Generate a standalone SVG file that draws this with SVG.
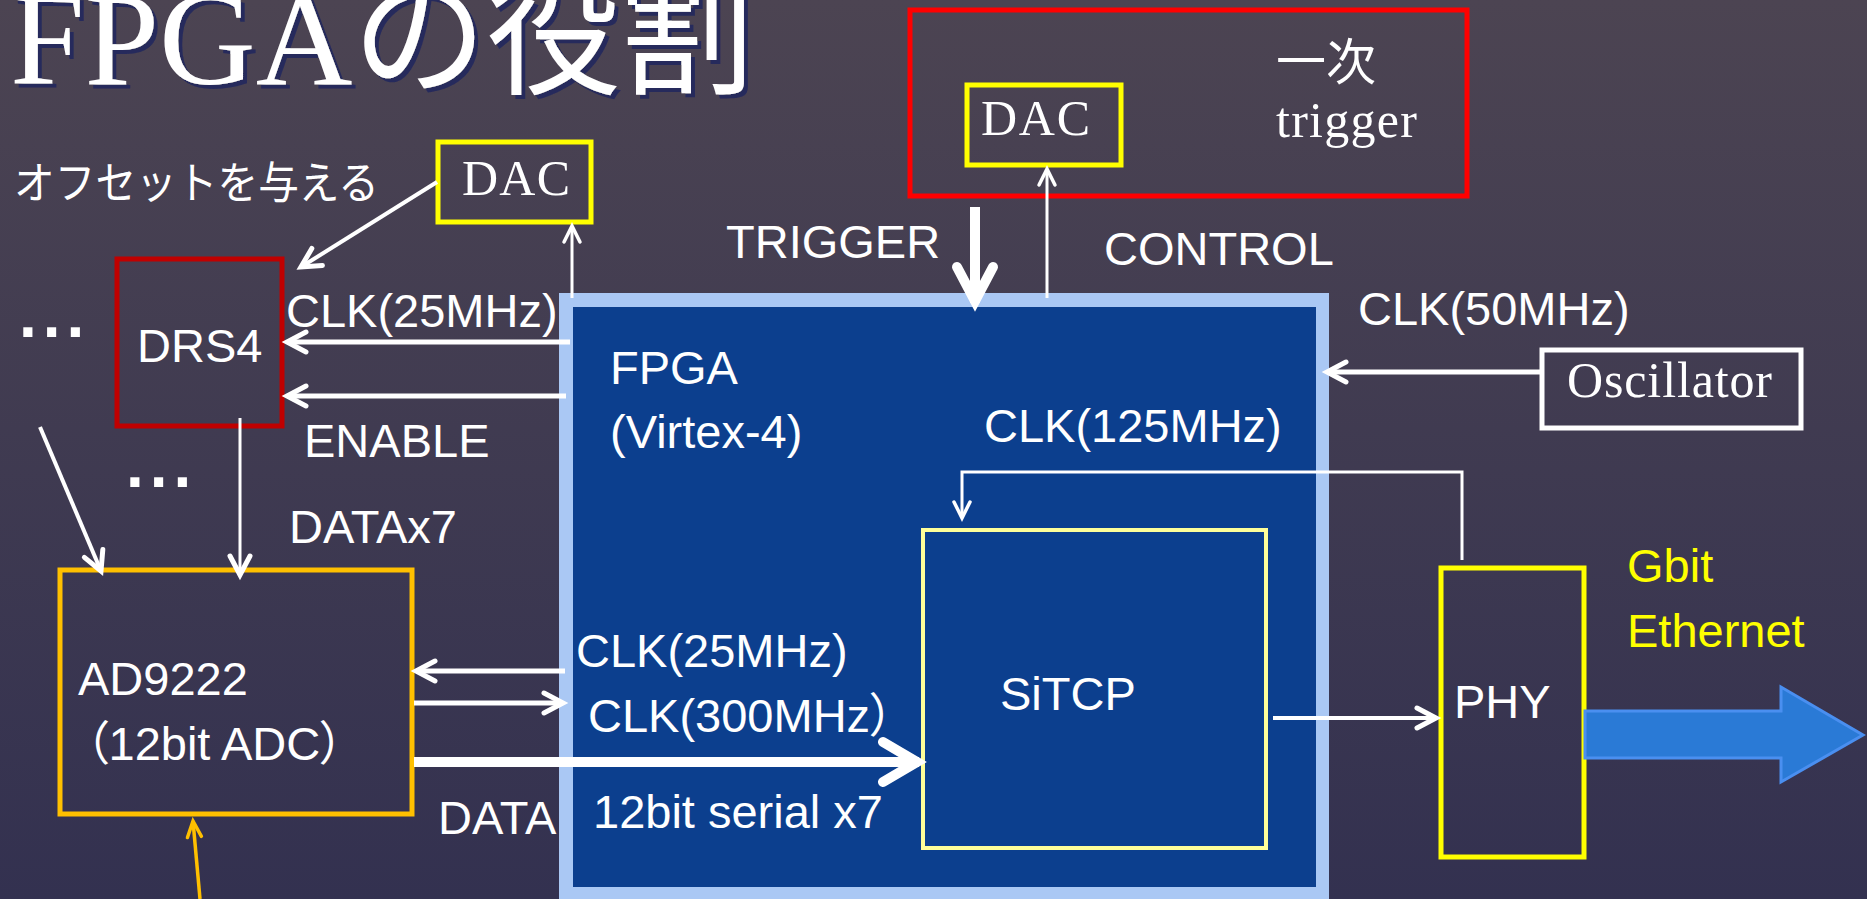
<svg xmlns="http://www.w3.org/2000/svg" width="1867" height="899" viewBox="0 0 1867 899">
<defs>
<linearGradient id="bg" x1="0" y1="0" x2="0" y2="1">
<stop offset="0" stop-color="#4c4452"/>
<stop offset="1" stop-color="#333150"/>
</linearGradient>
<filter id="shadow" x="-5%" y="-20%" width="115%" height="150%">
<feDropShadow dx="4" dy="4" stdDeviation="0" flood-color="#272a5c" flood-opacity="1"/>
</filter>
<marker id="hThin" markerUnits="userSpaceOnUse" viewBox="-20 -12 24 24" refX="0" refY="0" markerWidth="24" markerHeight="24" orient="auto" overflow="visible">
<path d="M-16,-8 L0,0 L-16,8" fill="none" stroke="#fff" stroke-width="3.5" stroke-linecap="round"/>
</marker>
<marker id="hMed" markerUnits="userSpaceOnUse" viewBox="-24 -14 28 28" refX="0" refY="0" markerWidth="28" markerHeight="28" orient="auto" overflow="visible">
<path d="M-19,-10 L0,0 L-19,10" fill="none" stroke="#fff" stroke-width="5" stroke-linecap="round"/>
</marker>
<marker id="hOrange" markerUnits="userSpaceOnUse" viewBox="-20 -12 24 24" refX="0" refY="0" markerWidth="24" markerHeight="24" orient="auto" overflow="visible">
<path d="M-16,-7 L0,0 L-16,7" fill="none" stroke="#ffc000" stroke-width="3.5" stroke-linecap="round"/>
</marker>
<marker id="hThick" markerUnits="userSpaceOnUse" viewBox="-44 -26 48 52" refX="0" refY="0" markerWidth="48" markerHeight="52" orient="auto" overflow="visible">
<path d="M-36,-20 L-2,0 L-36,20" fill="none" stroke="#fff" stroke-width="10" stroke-linecap="round" stroke-linejoin="miter"/>
</marker>
<marker id="hTrig" markerUnits="userSpaceOnUse" viewBox="-44 -26 48 52" refX="0" refY="0" markerWidth="48" markerHeight="52" orient="auto" overflow="visible">
<path d="M-36,-18 L-2,0 L-36,18" fill="none" stroke="#fff" stroke-width="10" stroke-linecap="round" stroke-linejoin="miter"/>
</marker>
</defs>
<style>
.sans{font-family:"Liberation Sans","Noto Sans CJK JP",sans-serif;fill:#fff;font-size:47px}
.serif{font-family:"Liberation Serif","Noto Sans CJK JP",serif;fill:#fff;font-size:50px}
.jp{font-family:"Noto Sans CJK JP",sans-serif;fill:#fff}
.palt{font-feature-settings:"palt"}
.box{fill:none;stroke-width:5}
.ln{fill:none;stroke:#fff}
.dots{font-family:"Liberation Sans",sans-serif;font-weight:bold;fill:#fff;font-size:64px;letter-spacing:6px}
</style>
<rect x="0" y="0" width="1867" height="899" fill="url(#bg)"/>

<g id="title">
<text x="10" y="84" font-family="'Liberation Serif','Noto Sans CJK JP',serif" font-size="134" fill="#fff" filter="url(#shadow)">FPGAの役割</text>
</g>

<g id="fpga">
<rect x="559" y="293" width="770" height="620" fill="#aac8f4"/>
<rect x="573" y="307" width="743" height="580" fill="#0c3f8e"/>
<text class="sans" x="610" y="384" font-size="51">FPGA</text>
<text class="sans" x="610" y="448" font-size="51">(Virtex-4)</text>
</g>

<g id="sitcp">
<rect x="923" y="530" width="343" height="318" fill="none" stroke="#ffff99" stroke-width="4"/>
<text class="sans" x="1000" y="710" font-size="52">SiTCP</text>
</g>

<g id="phy">
<rect class="box" x="1441" y="568" width="143" height="289" stroke="#ffff00"/>
<text class="sans" x="1454" y="718" font-size="52">PHY</text>
</g>

<g id="ad9222">
<rect class="box" x="60" y="570" width="352" height="244" stroke="#ffc000"/>
<text class="sans" x="78" y="695" font-size="51">AD9222</text>
<text class="sans palt" x="85" y="760" font-size="51">（12bit ADC）</text>
</g>

<g id="drs4">
<rect class="box" x="117" y="259" width="165" height="167" stroke="#c00000"/>
<text class="sans" x="137" y="362" font-size="45">DRS4</text>
</g>

<g id="dac-left">
<rect class="box" x="438" y="142" width="153" height="80" stroke="#ffff00"/>
<text class="serif" x="462" y="195" textLength="108">DAC</text>
</g>

<g id="trigger-board">
<rect class="box" x="910" y="10" width="557" height="186" stroke="#ff0000"/>
<text class="serif" x="1276" y="80" font-size="46">一次</text>
<text class="serif" x="1276" y="137" textLength="141">trigger</text>
</g>

<g id="dac-trigger">
<rect class="box" x="967" y="85" width="154" height="80" stroke="#ffff00"/>
<text class="serif" x="981" y="135" textLength="109">DAC</text>
</g>

<g id="oscillator">
<rect class="box" x="1542" y="350" width="259" height="78" stroke="#fff"/>
<text class="serif" x="1567" y="397" textLength="205">Oscillator</text>
</g>

<g id="ethernet">
<polygon points="1585,711 1781,711 1781,687 1863,735 1781,782 1781,758 1585,758" fill="#2a7ad6" stroke="#4a8ff0" stroke-width="3"/>
<text class="sans" x="1627" y="582" font-size="52" style="fill:#ffff00">Gbit</text>
<text class="sans" x="1627" y="647" font-size="52" style="fill:#ffff00">Ethernet</text>
</g>

<g id="misc-labels">
<text class="jp" x="14" y="199" font-size="44" textLength="365" lengthAdjust="spacingAndGlyphs">オフセットを与える</text>
<text class="dots" x="19" y="337">...</text>
<text class="dots" x="126" y="487">...</text>
</g>

<g id="connectors">
<line class="ln" x1="437" y1="182" x2="301" y2="267" stroke-width="4" marker-end="url(#hMed)"/>
<line class="ln" x1="572" y1="298" x2="572" y2="226" stroke-width="3" marker-end="url(#hThin)"/>
<line class="ln" x1="570" y1="342" x2="287" y2="342" stroke-width="5" marker-end="url(#hMed)"/>
<line class="ln" x1="566" y1="396" x2="287" y2="396" stroke-width="5" marker-end="url(#hMed)"/>
<line class="ln" x1="40" y1="427" x2="101" y2="571" stroke-width="4" marker-end="url(#hMed)"/>
<line class="ln" x1="240" y1="418" x2="240" y2="575" stroke-width="3" marker-end="url(#hMed)"/>
<line x1="200" y1="899" x2="193" y2="821" stroke="#ffc000" stroke-width="3.5" marker-end="url(#hOrange)"/>
<line class="ln" x1="565" y1="671" x2="416" y2="671" stroke-width="5" marker-end="url(#hMed)"/>
<line class="ln" x1="414" y1="703" x2="563" y2="703" stroke-width="5" marker-end="url(#hMed)"/>
<line class="ln" x1="414" y1="762" x2="919" y2="762" stroke-width="10" marker-end="url(#hThick)"/>
<line class="ln" x1="975" y1="207" x2="975" y2="303" stroke-width="10" marker-end="url(#hTrig)"/>
<line class="ln" x1="1047" y1="298" x2="1047" y2="169" stroke-width="3" marker-end="url(#hThin)"/>
<line class="ln" x1="1540" y1="372" x2="1327" y2="372" stroke-width="5" marker-end="url(#hMed)"/>
<polyline class="ln" points="1462,560 1462,472 962,472 962,518" stroke-width="3" marker-end="url(#hThin)"/>
<line class="ln" x1="1273" y1="718" x2="1436" y2="718" stroke-width="4" marker-end="url(#hMed)"/>
</g>

<g id="connector-labels">
<text class="sans" x="286" y="327">CLK(25MHz)</text>
<text class="sans" x="304" y="457">ENABLE</text>
<text class="sans" x="289" y="543">DATAx7</text>
<text class="sans" x="576" y="667">CLK(25MHz)</text>
<text class="sans palt" x="588" y="732">CLK(300MHz）</text>
<text class="sans" x="438" y="834">DATA</text>
<text class="sans" x="593" y="828">12bit serial x7</text>
<text class="sans" x="984" y="442">CLK(125MHz)</text>
<text class="sans" x="726" y="258">TRIGGER</text>
<text class="sans" x="1104" y="265">CONTROL</text>
<text class="sans" x="1358" y="325">CLK(50MHz)</text>
</g>
</svg>
